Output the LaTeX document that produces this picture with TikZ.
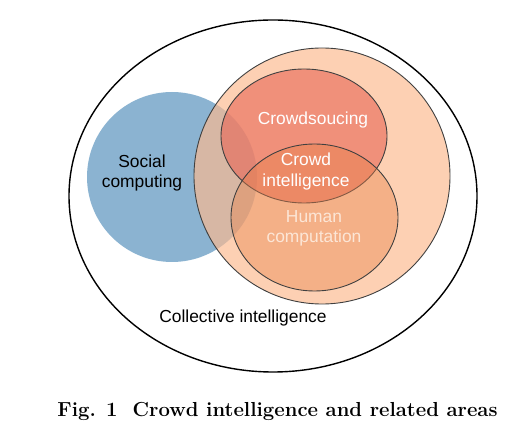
\documentclass[tikz,border=0pt]{standalone}
\usepackage{fontspec}
\setsansfont{Liberation Sans}
\definecolor{scblue}{RGB}{139,179,209}
\definecolor{peach}{RGB}{252,186,143}
\definecolor{csred}{RGB}{232,101,84}
\definecolor{hcorange}{RGB}{230,128,72}
\definecolor{paletext}{RGB}{252,230,214}

\begin{document}
\begin{tikzpicture}[
    x=1pt, y=1pt,
    area/.style={draw=black!75, line width=0.9pt},
    lbl/.style={align=center, font=\sffamily\fontsize{17.4}{20.5}\selectfont},
    wlbl/.style={lbl, text=white}
  ]
    \useasboundingbox (0,0) rectangle (532,439);
    % areas
    \draw[line width=1.4pt] (273,243) ellipse [x radius=204, y radius=176];
    \fill[scblue] (172,262) circle [radius=85];
    \filldraw[area, fill=peach, fill opacity=0.68] (322,263) circle [radius=128];
    \filldraw[area, fill=csred, fill opacity=0.6] (304,303) ellipse [x radius=83, y radius=67];
    \filldraw[area, fill=hcorange, fill opacity=0.4] (314.5,221.5) ellipse [x radius=83.5, y radius=73.5];
    % labels
    \node[lbl] (social) at (142,266) {Social\\computing};
    \node[wlbl] (crowdsrc) at (313,319) {Crowdsoucing};
    \node[wlbl] (crowdint) at (306,267.5) {Crowd\\intelligence};
    \node[lbl, text=paletext] (humcomp) at (314,210.5) {Human\\computation};
    \node[lbl, anchor=base] (collint) at (243,117) {Collective intelligence};
    \node[anchor=base, font=\bfseries\fontsize{20.3}{23}\selectfont] (caption) at (277.5,23)
      {Fig. 1\hspace{0.75em}Crowd intelligence and related areas};
\end{tikzpicture}
\end{document}
